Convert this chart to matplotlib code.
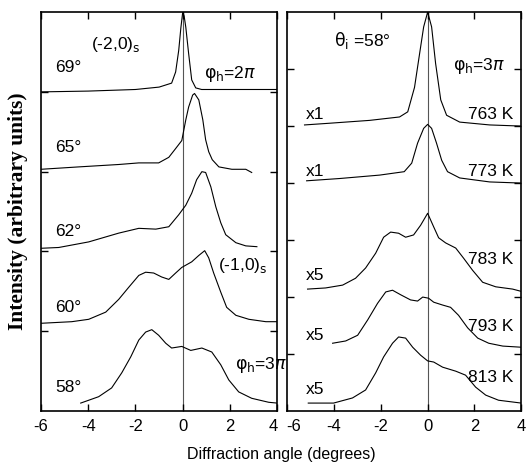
import numpy as np
import matplotlib.pyplot as plt
import matplotlib.transforms as mtransforms

plt.rcParams["axes.unicode_minus"] = False
plt.rcParams["font.family"] = ["Liberation Sans", "DejaVu Sans"]

# ---------------------------------------------------------
# Left panel: (-2,0)s profiles at different incidence angles
# ---------------------------------------------------------
x69 = [-6, -4, -2, -1, -0.47, -0.3, -0.17, -0.08, 0, 0.06, 0.13, 0.25, 0.38, 0.55, 0.8, 2, 4]
y69 = [4.0, 4.01, 4.03, 4.06, 4.11, 4.25, 4.52, 4.8, 5.0, 4.95, 4.81, 4.48, 4.15, 4.05, 4.03, 4.03, 4.03]

x65 = [-6, -4.4, -2.71, -1.86, -1.02, -0.59, -0.3, -0.04, 0.13, 0.25, 0.42, 0.5, 0.68, 0.85, 0.97, 1.1, 1.25, 1.53, 2.08, 2.67, 2.92]
y65 = [3.03, 3.06, 3.09, 3.11, 3.11, 3.18, 3.29, 3.39, 3.65, 3.81, 3.96, 3.98, 3.9, 3.65, 3.4, 3.25, 3.15, 3.06, 3.03, 3.03, 2.99]

x62 = [-6, -5.25, -3.98, -2.71, -1.86, -1.14, -0.59, -0.17, 0.13, 0.38, 0.59, 0.81, 0.97, 1.19, 1.4, 1.61, 1.82, 2.25, 2.67, 3.14]
y62 = [2.04, 2.05, 2.12, 2.23, 2.29, 2.28, 2.31, 2.46, 2.58, 2.73, 2.9, 3.0, 2.99, 2.81, 2.56, 2.36, 2.21, 2.11, 2.07, 2.06]

x60 = [-6, -4.7, -3.98, -3.26, -2.71, -2.29, -1.86, -1.57, -1.23, -0.89, -0.59, -0.3, -0.04, 0.38, 0.68, 0.93, 1.1, 1.31, 1.61, 1.86, 2.25, 2.8, 3.52, 4]
y60 = [1.1, 1.12, 1.15, 1.24, 1.4, 1.55, 1.7, 1.74, 1.73, 1.68, 1.65, 1.73, 1.8, 1.87, 1.95, 2.01, 1.92, 1.73, 1.49, 1.3, 1.2, 1.15, 1.12, 1.12]

x58 = [-4.32, -3.56, -3.01, -2.58, -2.2, -1.86, -1.57, -1.31, -1.02, -0.72, -0.47, -0.04, 0.34, 0.81, 1.23, 1.61, 1.95, 2.37, 2.92, 3.64, 4]
y58 = [0.1, 0.18, 0.29, 0.48, 0.68, 0.89, 0.99, 1.02, 0.95, 0.85, 0.79, 0.81, 0.76, 0.79, 0.74, 0.58, 0.39, 0.24, 0.16, 0.11, 0.1]

left_curves = [(x69, y69), (x65, y65), (x62, y62), (x60, y60), (x58, y58)]
left_angles = ["69°", "65°", "62°", "60°", "58°"]
left_label_y = [4.3, 3.3, 2.25, 1.3, 0.29]

# ---------------------------------------------------------
# Right panel: theta_i = 58 deg at different temperatures
# ---------------------------------------------------------
x763 = [-5.26, -4.19, -2.48, -1.2, -0.85, -0.56, -0.34, -0.17, 0, 0.17, 0.34, 0.56, 0.81, 1.37, 2.65, 4]
y763 = [5.02, 5.05, 5.1, 5.16, 5.25, 5.68, 6.28, 6.74, 7.0, 6.74, 6.1, 5.46, 5.19, 5.07, 5.02, 5.0]

x773 = [-5.17, -3.76, -2.05, -1.0, -0.68, -0.43, -0.17, 0, 0.17, 0.38, 0.6, 0.85, 1.37, 2.65, 4]
y773 = [4.04, 4.08, 4.14, 4.2, 4.35, 4.7, 4.96, 5.03, 4.96, 4.7, 4.4, 4.2, 4.09, 4.02, 4.0]

x783 = [-5.13, -4.36, -3.63, -3.08, -2.65, -2.22, -1.88, -1.58, -1.24, -0.94, -0.6, -0.3, 0, 0.26, 0.47, 0.77, 1.2, 1.54, 1.92, 2.35, 2.91, 3.63, 4]
y783 = [2.14, 2.16, 2.21, 2.33, 2.51, 2.77, 3.05, 3.14, 3.12, 3.05, 3.09, 3.26, 3.47, 3.23, 3.04, 2.95, 2.86, 2.68, 2.47, 2.26, 2.18, 2.14, 2.1]

x793 = [-4.06, -3.5, -2.99, -2.56, -2.14, -1.79, -1.5, -1.15, -0.73, -0.43, -0.21, 0.04, 0.26, 0.64, 0.98, 1.32, 1.71, 2.14, 2.61, 3.21, 4]
y793 = [1.19, 1.23, 1.33, 1.6, 1.89, 2.09, 2.12, 2.04, 1.95, 1.93, 2.0, 1.98, 1.91, 1.86, 1.82, 1.68, 1.46, 1.28, 1.19, 1.14, 1.12]

x813 = [-5.1, -4.02, -3.21, -2.65, -2.22, -1.88, -1.5, -1.24, -0.94, -0.64, -0.3, 0, 0.26, 0.64, 1.2, 1.62, 2.05, 2.48, 3.03, 4]
y813 = [0.14, 0.14, 0.23, 0.37, 0.67, 0.95, 1.19, 1.3, 1.28, 1.12, 0.98, 0.88, 0.86, 0.77, 0.7, 0.63, 0.42, 0.28, 0.19, 0.14]

right_curves = [(x763, y763), (x773, y773), (x783, y783), (x793, y793), (x813, y813)]
temps = ["763 K", "773 K", "783 K", "793 K", "813 K"]
scales = ["x1", "x1", "x5", "x5", "x5"]
temp_y = [5.2, 4.2, 2.66, 1.48, 0.59]
scale_y = [5.2, 4.2, 2.38, 1.33, 0.37]

fig = plt.figure(figsize=(5.26, 4.65), dpi=100)
ax1 = fig.add_axes([0.078, 0.116, 0.449, 0.858])
ax2 = fig.add_axes([0.546, 0.116, 0.445, 0.858])

for ax in (ax1, ax2):
    ax.set_xlim(-6, 4)
    ax.set_xticks([-6, -4, -2, 0, 2, 4])
    ax.tick_params(direction="in", length=5, width=1, top=True, right=True,
                   labelsize=12, pad=6)
    ax.axvline(0, color="#555555", linewidth=0.8, zorder=1)
    for sp in ax.spines.values():
        sp.set_linewidth(1.2)

ax1.set_ylim(0, 5)
ax1.set_yticks([1, 2, 3, 4])
ax1.set_yticklabels([])
ax2.set_ylim(0, 7)
ax2.set_yticks([1, 2, 3, 4, 5, 6])
ax2.set_yticklabels([])

# keep the "4" and "-6" at the panel join apart, as in the original
lab_l = ax1.get_xticklabels()[-1]
lab_l.set_transform(lab_l.get_transform() +
                    mtransforms.ScaledTranslation(-4 / 100, 0, fig.dpi_scale_trans))
lab_r = ax2.get_xticklabels()[0]
lab_r.set_transform(lab_r.get_transform() +
                    mtransforms.ScaledTranslation(6 / 100, 0, fig.dpi_scale_trans))

for (xs, ys) in left_curves:
    ax1.plot(xs, ys, color="black", linewidth=0.8, zorder=2)
for (xs, ys) in right_curves:
    ax2.plot(xs, ys, color="black", linewidth=0.8, zorder=2)

fs = 12.5
for lab, yy in zip(left_angles, left_label_y):
    ax1.text(-5.4, yy, lab, fontsize=fs, va="center", ha="left")

ax1.text(-3.9, 4.59, r"(-2,0)$_\mathsf{s}$", fontsize=fs, va="center", ha="left")
ax1.text(0.9, 4.22, r"$\mathsf{\varphi_h}$=2$\pi$", fontsize=fs, va="center", ha="left")
ax1.text(1.5, 1.82, r"(-1,0)$_\mathsf{s}$", fontsize=fs, va="center", ha="left")
ax1.text(2.2, 0.58, r"$\mathsf{\varphi_h}$=3$\pi$", fontsize=fs, va="center", ha="left")

ax2.text(-4.0, 6.5, r"$\mathsf{\theta_i}$ =58°", fontsize=fs, va="center", ha="left")
ax2.text(1.1, 6.05, r"$\mathsf{\varphi_h}$=3$\pi$", fontsize=fs, va="center", ha="left")
for t, s, ty, sy in zip(temps, scales, temp_y, scale_y):
    ax2.text(3.65, ty, t, fontsize=fs, va="center", ha="right")
    ax2.text(-5.2, sy, s, fontsize=fs, va="center", ha="left")

fig.text(0.034, 0.545, "Intensity (arbitrary units)", rotation=90, fontsize=15.5,
         fontweight="bold", family="Liberation Serif", va="center", ha="center")
fig.text(0.535, 0.022, "Diffraction angle (degrees)", fontsize=11.5, va="center", ha="center")

fig.savefig("out.png", dpi=100)
